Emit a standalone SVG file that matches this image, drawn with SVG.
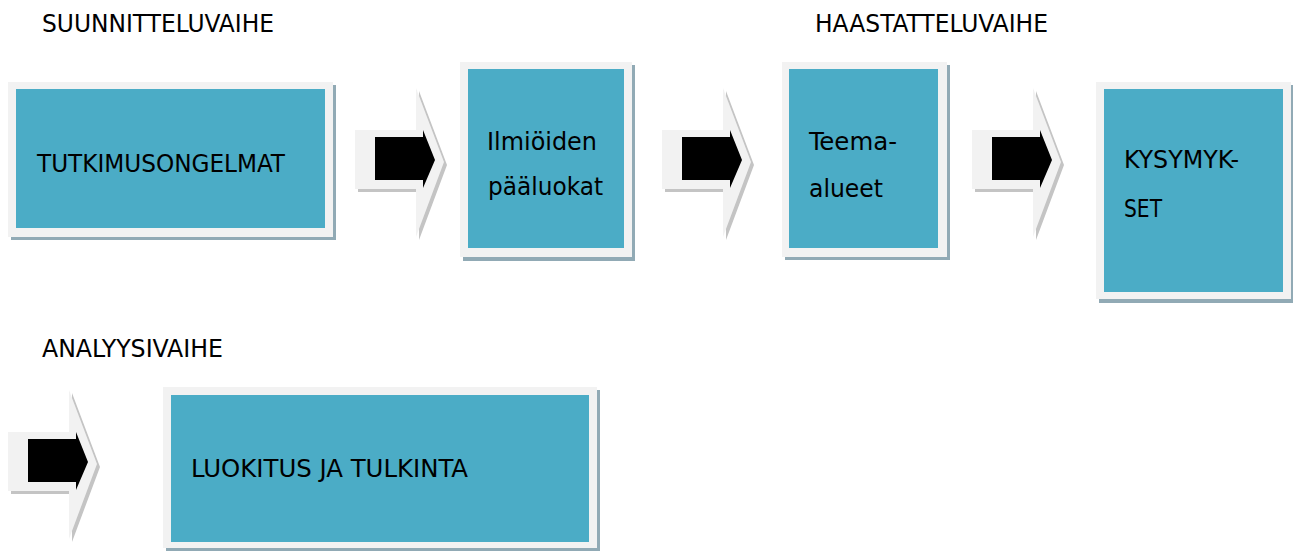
<svg xmlns="http://www.w3.org/2000/svg" xmlns:xlink="http://www.w3.org/1999/xlink" width="1293" height="552" viewBox="0 0 1293 552">
<style>
.t{font-family:"DejaVu Sans Condensed","DejaVu Sans",sans-serif;font-stretch:condensed;font-size:25px;fill:#000}
.frame{fill:#f2f2f2}
.shadow{fill:#91aab5}
.fill{fill:#4bacc6}
.ag{fill:#f2f2f2}
.as{fill:#c4c4c4}
.ab{fill:#000}
</style>
<defs>
<g id="arrow">
<polygon class="as" points="3,133 64,133 64,91 92,165 64,240 64,192 3,192"/>
<polygon class="ag" points="0,130 61,130 61,88 89,162 61,237 61,189 0,189"/>
<polygon class="ab" points="20,137 68,137 68,130 80,160 68,188 68,180 20,180"/>
</g>
</defs>
<rect width="1293" height="552" fill="#fff"/>
<g id="labels">
<text class="t" x="42" y="32" textLength="232" lengthAdjust="spacingAndGlyphs">SUUNNITTELUVAIHE</text>
<text class="t" x="815" y="32" textLength="233" lengthAdjust="spacingAndGlyphs">HAASTATTELUVAIHE</text>
<text class="t" x="42" y="357" textLength="181" lengthAdjust="spacingAndGlyphs">ANALYYSIVAIHE</text>
</g>
<g id="connectors">
<use xlink:href="#arrow" href="#arrow" x="355" y="0"/>
<use xlink:href="#arrow" href="#arrow" x="662" y="0"/>
<use xlink:href="#arrow" href="#arrow" x="972" y="0"/>
<use xlink:href="#arrow" href="#arrow" x="8" y="302"/>
</g>
<g id="node-tutkimusongelmat">
<rect class="shadow" x="11" y="85" width="325" height="155"/>
<rect class="frame" x="8" y="82" width="325" height="155"/>
<rect class="fill" x="16" y="89" width="309" height="139"/>
<text class="t" x="37" y="172" textLength="248" lengthAdjust="spacingAndGlyphs">TUTKIMUSONGELMAT</text>
</g>
<g id="node-ilmioiden">
<rect class="shadow" x="463" y="65" width="172" height="196"/>
<rect class="frame" x="460" y="62" width="172" height="195"/>
<rect class="fill" x="468" y="69" width="156" height="179"/>
<text class="t" x="487" y="150" textLength="110" lengthAdjust="spacingAndGlyphs">Ilmiöiden</text>
<text class="t" x="488" y="195" textLength="115" lengthAdjust="spacingAndGlyphs">pääluokat</text>
</g>
<g id="node-teema">
<rect class="shadow" x="785" y="65" width="165" height="195"/>
<rect class="frame" x="782" y="62" width="165" height="195"/>
<rect class="fill" x="789" y="69" width="149" height="179"/>
<text class="t" x="809" y="150" textLength="88" lengthAdjust="spacingAndGlyphs">Teema-</text>
<text class="t" x="809" y="197" textLength="74" lengthAdjust="spacingAndGlyphs">alueet</text>
</g>
<g id="node-kysymykset">
<rect class="shadow" x="1099" y="85" width="195" height="218"/>
<rect class="frame" x="1096" y="82" width="195" height="217"/>
<rect class="fill" x="1104" y="89" width="179" height="203"/>
<text class="t" x="1124" y="168" textLength="115" lengthAdjust="spacingAndGlyphs">KYSYMYK-</text>
<text class="t" x="1124" y="217" textLength="38" lengthAdjust="spacingAndGlyphs">SET</text>
</g>
<g id="node-luokitus">
<rect class="shadow" x="166" y="390" width="434" height="161"/>
<rect class="frame" x="163" y="387" width="434" height="161"/>
<rect class="fill" x="171" y="395" width="418" height="147"/>
<text class="t" x="191" y="477" textLength="277" lengthAdjust="spacingAndGlyphs">LUOKITUS JA TULKINTA</text>
</g>
</svg>
